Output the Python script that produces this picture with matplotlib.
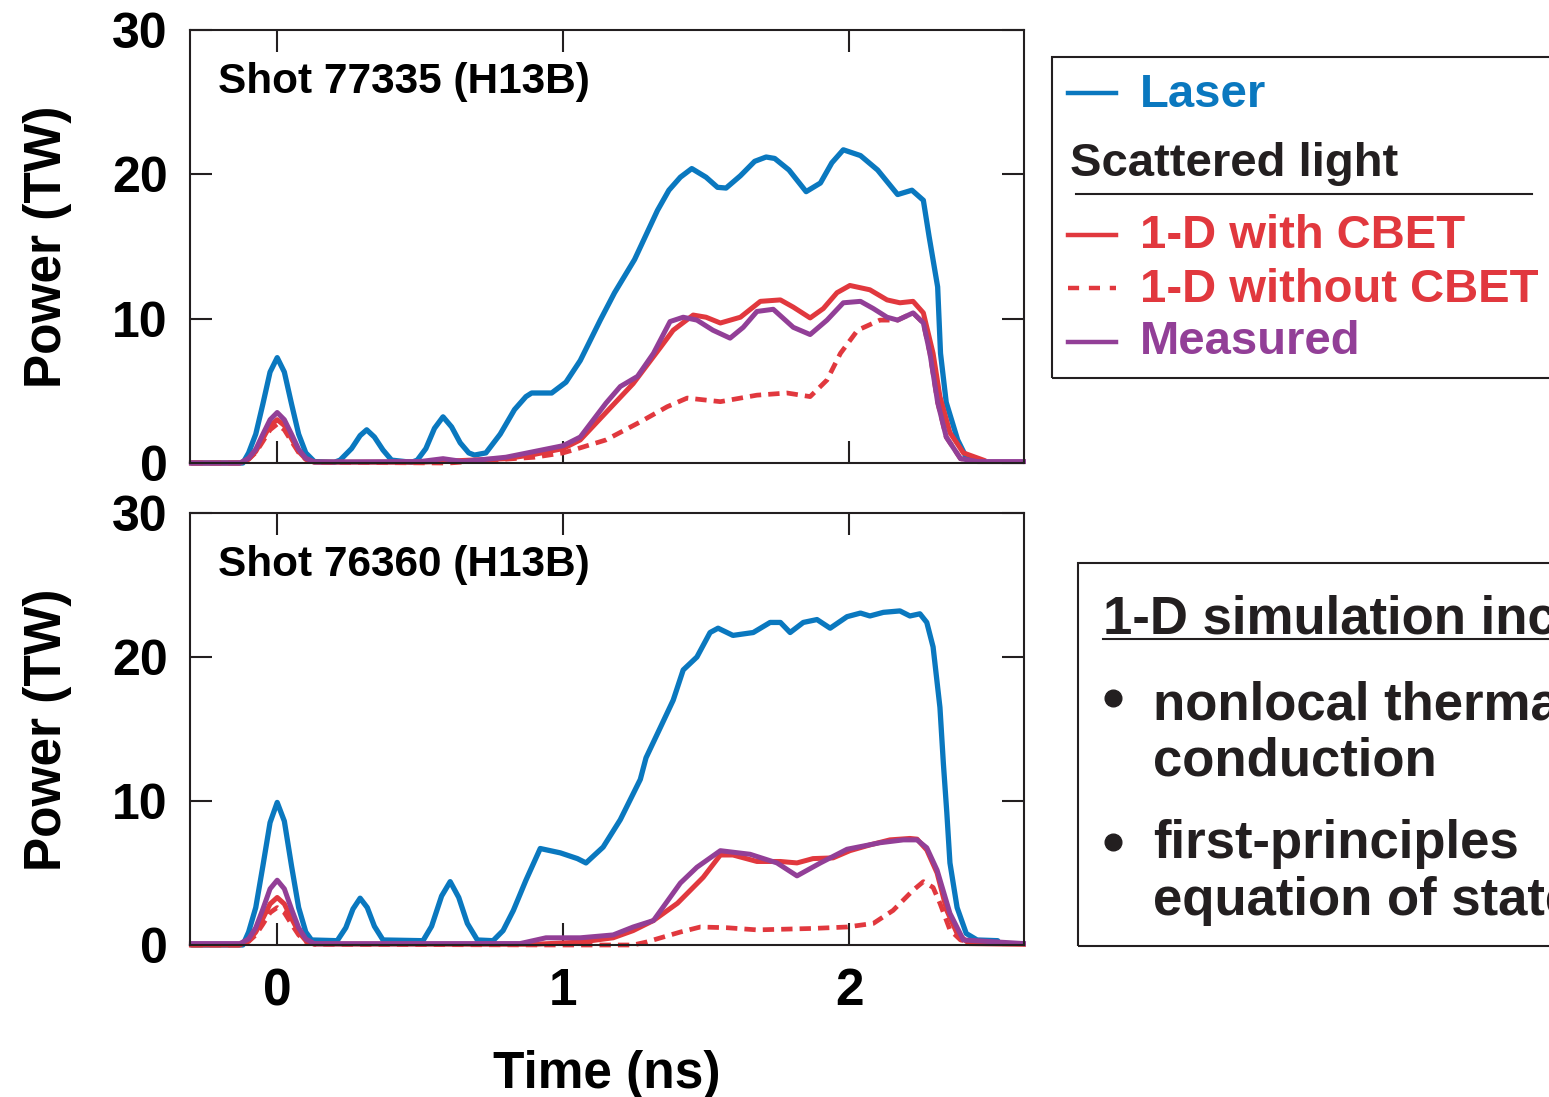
import matplotlib
import matplotlib.pyplot as plt
from matplotlib import font_manager
from matplotlib.lines import Line2D
from matplotlib.patches import Rectangle

matplotlib.use('Agg')

W, H = 1549, 1097

# Shot 77335 (top panel)
t_laser_a = [-0.30, -0.12, -0.10, -0.075, -0.05, -0.025, 0.0, 0.025, 0.05, 0.075, 0.10, 0.13, 0.20,
             0.22, 0.26, 0.29, 0.313, 0.34, 0.37, 0.40, 0.47, 0.49, 0.52, 0.55, 0.58, 0.61, 0.64,
             0.67, 0.69, 0.73, 0.78, 0.83, 0.87, 0.89, 0.96, 1.01, 1.06, 1.13, 1.18, 1.25, 1.33,
             1.37, 1.41, 1.45, 1.50, 1.54, 1.57, 1.62, 1.67, 1.71, 1.74, 1.79, 1.85, 1.90, 1.94,
             1.98, 2.04, 2.10, 2.17, 2.22, 2.26, 2.28, 2.31, 2.32, 2.34, 2.38, 2.41, 2.46]
p_laser_a = [0, 0, 0.7, 2.0, 4.1, 6.3, 7.3, 6.3, 4.1, 2.0, 0.7, 0.1, 0.05,
             0.2, 1.0, 1.9, 2.3, 1.8, 0.9, 0.2, 0.05, 0.2, 1.0, 2.4, 3.2, 2.5, 1.4,
             0.7, 0.55, 0.7, 2.0, 3.7, 4.6, 4.85, 4.85, 5.6, 7.1, 9.9, 11.8, 14.1, 17.5,
             18.9, 19.8, 20.4, 19.8, 19.1, 19.05, 19.9, 20.9, 21.2, 21.1, 20.3, 18.8, 19.4, 20.8,
             21.7, 21.3, 20.3, 18.6, 18.9, 18.2, 15.7, 12.2, 7.6, 4.2, 1.6, 0.4, 0.2]

t_cbet_a = [-0.30, -0.13, -0.10, -0.075, -0.05, -0.025, 0.0, 0.025, 0.05, 0.075, 0.10, 0.13, 0.5, 0.8,
            0.9, 1.0, 1.06, 1.15, 1.245, 1.34, 1.385, 1.455, 1.50, 1.55, 1.62, 1.69, 1.76, 1.805,
            1.864, 1.91, 1.958, 2.003, 2.073, 2.133, 2.178, 2.224, 2.26, 2.294, 2.318, 2.353, 2.40,
            2.47]
p_cbet_a = [0, 0, 0.28, 0.8, 1.7, 2.6, 3.0, 2.6, 1.7, 0.8, 0.28, 0.06, 0.05, 0.3,
            0.6, 1.0, 1.6, 3.5, 5.5, 8.0, 9.2, 10.25, 10.1, 9.7, 10.1, 11.2, 11.3, 10.8,
            10.05, 10.7, 11.8, 12.3, 12.0, 11.3, 11.1, 11.2, 10.4, 7.6, 4.6, 2.1, 0.7,
            0.2]

t_nocbet_a = [-0.30, -0.13, -0.10, -0.075, -0.05, -0.025, 0.0, 0.025, 0.05, 0.075, 0.10, 0.13, 0.6,
              0.9, 1.0, 1.06, 1.15, 1.27, 1.364, 1.434, 1.55, 1.678, 1.783, 1.864, 1.923, 1.97,
              2.03, 2.108, 2.17, 2.224, 2.26, 2.283, 2.31, 2.34, 2.39, 2.45]
p_nocbet_a = [0, 0, 0.25, 0.73, 1.5, 2.3, 2.7, 2.3, 1.5, 0.73, 0.25, 0.05, 0.0,
              0.4, 0.7, 1.05, 1.6, 2.85, 3.9, 4.5, 4.25, 4.7, 4.85, 4.6, 5.75, 7.6,
              9.2, 9.9, 9.9, 10.4, 9.7, 7.6, 4.2, 1.8, 0.3, 0.1]

t_meas_a = [-0.30, -0.13, -0.10, -0.075, -0.05, -0.025, 0.0, 0.025, 0.05, 0.075, 0.10, 0.13, 0.50,
            0.58, 0.65, 0.8, 0.9, 1.0, 1.06, 1.15, 1.20, 1.26, 1.316, 1.374, 1.42, 1.468, 1.524,
            1.584, 1.63, 1.678, 1.735, 1.805, 1.864, 1.923, 1.98, 2.04, 2.085, 2.133, 2.17, 2.224,
            2.26, 2.283, 2.31, 2.34, 2.39, 2.45, 2.61]
p_meas_a = [0, 0, 0.33, 0.95, 2.0, 3.0, 3.5, 3.0, 2.0, 0.95, 0.33, 0.07, 0.1,
            0.3, 0.1, 0.4, 0.8, 1.2, 1.8, 4.15, 5.3, 6.0, 7.6, 9.8, 10.1, 9.9, 9.2,
            8.65, 9.4, 10.5, 10.65, 9.4, 8.9, 9.9, 11.1, 11.2, 10.7, 10.1, 9.9, 10.4,
            9.7, 7.6, 4.2, 1.8, 0.3, 0.1, 0.1]

# Shot 76360 (bottom panel)
t_laser_b = [-0.30, -0.12, -0.10, -0.075, -0.05, -0.025, 0.0, 0.025, 0.05, 0.075, 0.10, 0.12, 0.21,
             0.24, 0.265, 0.29, 0.315, 0.34, 0.37, 0.51, 0.54, 0.575, 0.605, 0.635, 0.665, 0.70,
             0.755, 0.79, 0.826, 0.87, 0.92, 0.99, 1.05, 1.08, 1.14, 1.20, 1.27, 1.29, 1.34, 1.385,
             1.42, 1.468, 1.514, 1.542, 1.594, 1.665, 1.724, 1.76, 1.794, 1.84, 1.888, 1.934, 1.993,
             2.04, 2.073, 2.12, 2.178, 2.213, 2.248, 2.272, 2.294, 2.318, 2.33, 2.342, 2.353, 2.378,
             2.41, 2.448, 2.52]
p_laser_b = [0, 0, 0.9, 2.6, 5.5, 8.5, 9.9, 8.6, 5.5, 2.6, 0.9, 0.35, 0.3,
             1.2, 2.5, 3.25, 2.6, 1.3, 0.35, 0.3, 1.3, 3.4, 4.4, 3.3, 1.5, 0.35,
             0.3, 1.0, 2.4, 4.5, 6.7, 6.4, 6.0, 5.7, 6.8, 8.7, 11.5, 13.0, 15.1, 17.0,
             19.1, 20.0, 21.7, 22.0, 21.5, 21.7, 22.4, 22.4, 21.7, 22.4, 22.6, 22.0, 22.8,
             23.05, 22.85, 23.1, 23.2, 22.85, 23.0, 22.4, 20.7, 16.5, 12.6, 9.2, 5.7, 2.6,
             0.8, 0.35, 0.3]

t_cbet_b = [-0.30, -0.13, -0.10, -0.075, -0.05, -0.025, 0.0, 0.025, 0.05, 0.075, 0.10, 0.13, 0.9, 1.06,
            1.175, 1.245, 1.316, 1.40, 1.49, 1.55, 1.594, 1.678, 1.76, 1.818, 1.874, 1.944, 2.003,
            2.073, 2.143, 2.213, 2.238, 2.272, 2.308, 2.342, 2.378, 2.42, 2.61]
p_cbet_b = [0, 0, 0.31, 0.9, 1.85, 2.85, 3.3, 2.85, 1.85, 0.9, 0.31, 0.07, 0.05, 0.2,
            0.5, 1.0, 1.7, 2.9, 4.7, 6.25, 6.25, 5.8, 5.8, 5.7, 6.0, 6.05, 6.55,
            6.95, 7.3, 7.4, 7.35, 6.6, 5.0, 2.4, 0.8, 0.1, 0.05]

t_nocbet_b = [-0.30, -0.13, -0.10, -0.075, -0.05, -0.025, 0.0, 0.025, 0.05, 0.075, 0.10, 0.13, 1.0,
              1.245, 1.29, 1.41, 1.48, 1.573, 1.678, 1.874, 1.993, 2.085, 2.154, 2.224, 2.26, 2.294,
              2.318, 2.353, 2.39, 2.45]
p_nocbet_b = [0, 0, 0.24, 0.7, 1.45, 2.25, 2.6, 2.25, 1.45, 0.7, 0.24, 0.05, 0.0,
              0.0, 0.2, 0.9, 1.25, 1.2, 1.05, 1.15, 1.25, 1.5, 2.4, 3.8, 4.4, 4.0,
              2.9, 1.05, 0.35, 0.1]

t_meas_b = [-0.30, -0.13, -0.10, -0.075, -0.05, -0.025, 0.0, 0.025, 0.05, 0.075, 0.10, 0.13, 0.85,
            0.94, 1.06, 1.175, 1.245, 1.316, 1.41, 1.468, 1.55, 1.654, 1.748, 1.818, 1.90, 1.993,
            2.108, 2.19, 2.238, 2.272, 2.308, 2.353, 2.40, 2.61]
p_meas_b = [0.1, 0.1, 0.42, 1.2, 2.5, 3.9, 4.5, 3.9, 2.5, 1.2, 0.42, 0.09, 0.1,
            0.5, 0.5, 0.7, 1.25, 1.7, 4.3, 5.4, 6.55, 6.3, 5.7, 4.8, 5.7, 6.65,
            7.1, 7.3, 7.3, 6.75, 5.2, 2.2, 0.35, 0.1]

x_ticks = [0, 1, 2]
y_ticks = [0, 10, 20, 30]
shot_labels = ['Shot 77335 (H13B)', 'Shot 76360 (H13B)']
legend_labels = ['Laser', '1-D with CBET', '1-D without CBET', 'Measured']
box_title = '1-D simulation includes'
box_lines = ['nonlocal thermal', 'conduction', 'first-principles', 'equation of state']

BLUE = '#0A78BF'
RED = '#E1383E'
PURPLE = '#923F97'
DARK = '#231F20'

plt.rcParams['font.family'] = 'Liberation Sans'
plt.rcParams['font.weight'] = 'bold'

names = {f.name for f in font_manager.fontManager.ttflist}
narrow = 'Liberation Sans Narrow' if 'Liberation Sans Narrow' in names else 'Liberation Sans'


def fx(px):
    return px / W


def fy(py):
    return 1 - py / H


fig = plt.figure(figsize=(W / 100, H / 100), dpi=100)
ax_top = fig.add_axes([fx(190), fy(463), (1024 - 190) / W, (463 - 30) / H])
ax_bot = fig.add_axes([fx(190), fy(945), (1024 - 190) / W, (945 - 513) / H])

panels = [
    (ax_top, t_laser_a, p_laser_a, t_nocbet_a, p_nocbet_a, t_cbet_a, p_cbet_a, t_meas_a, p_meas_a),
    (ax_bot, t_laser_b, p_laser_b, t_nocbet_b, p_nocbet_b, t_cbet_b, p_cbet_b, t_meas_b, p_meas_b),
]

for i, (ax, tl, pl, tn, pn, tc, pc, tm, pm) in enumerate(panels):
    ax.plot(tl, pl, color=BLUE, lw=3.8, clip_on=False, solid_joinstyle='round', solid_capstyle='round')
    ax.plot(tn, pn, color=RED, lw=3.4, ls=(0, (2.4, 1.5)), clip_on=False)
    ax.plot(tc, pc, color=RED, lw=3.6, clip_on=False, solid_joinstyle='round')
    ax.plot(tm, pm, color=PURPLE, lw=3.6, clip_on=False, solid_joinstyle='round')
    ax.set_xlim(-0.305, 2.612)
    ax.set_ylim(0, 30)
    ax.set_xticks(x_ticks)
    ax.set_yticks(y_ticks)
    ax.tick_params(direction='in', length=16, width=1.5, color=DARK, top=True, right=True)
    ax.tick_params(axis='y', labelsize=36, pad=16)
    ax.tick_params(axis='x', labelsize=37, pad=16, labelbottom=(i == 1))
    for lab in ax.get_xticklabels():
        lab.set_family(narrow)
    for sp in ax.spines.values():
        sp.set_linewidth(1.5)
        sp.set_color(DARK)
    ax.text(0.0336, 0.855, shot_labels[i], transform=ax.transAxes, fontsize=30.5,
            va='baseline', ha='left')

fig.text(fx(48), fy(247), 'Power (TW)', rotation=90, ha='center', va='center', fontsize=37)
fig.text(fx(48), fy(730), 'Power (TW)', rotation=90, ha='center', va='center', fontsize=37)
fig.text(fx(607), fy(1088), 'Time (ns)', ha='center', va='baseline', fontsize=37, family=narrow)

# legend box
fig.add_artist(Rectangle((fx(1052), fy(378)), 1.0, (378 - 57) / H, transform=fig.transFigure,
                         fill=False, lw=1.5, edgecolor=DARK))
leg_colors = [BLUE, RED, RED, PURPLE]
leg_styles = ['-', '-', (0, (2.5, 2.2)), '-']
leg_line_y = [93, 235, 288, 342]
leg_text_y = [107, 248, 302, 354]
for lab, col, ls, ly, ty in zip(legend_labels, leg_colors, leg_styles, leg_line_y, leg_text_y):
    fig.add_artist(Line2D([fx(1068), fx(1116)], [fy(ly), fy(ly)], transform=fig.transFigure,
                          color=col, lw=3.2, ls=ls))
    fig.text(fx(1140), fy(ty), lab, color=col, fontsize=34, va='baseline', ha='left')
fig.text(fx(1070), fy(176), 'Scattered light', color=DARK, fontsize=34, va='baseline', ha='left')
fig.add_artist(Line2D([fx(1076), fx(1532)], [fy(194), fy(194)], transform=fig.transFigure,
                      color=DARK, lw=1.5))

# simulation box
fig.add_artist(Rectangle((fx(1078), fy(946)), 1.0, (946 - 563) / H, transform=fig.transFigure,
                         fill=False, lw=1.5, edgecolor=DARK))
fig.text(fx(1103), fy(633), box_title, color=DARK, fontsize=38, va='baseline', ha='left')
fig.add_artist(Line2D([fx(1103), fx(1560)], [fy(639), fy(639)], transform=fig.transFigure,
                      color=DARK, lw=1.5))
for ty, txt in zip([720, 775, 858, 915], box_lines):
    fig.text(fx(1153), fy(ty), txt, color=DARK, fontsize=38, va='baseline', ha='left')
for by in [698, 842]:
    fig.add_artist(Line2D([fx(1113)], [fy(by)], transform=fig.transFigure, marker='o',
                          markersize=12, color=DARK, ls='none'))

fig.savefig('out.png', dpi=100)
